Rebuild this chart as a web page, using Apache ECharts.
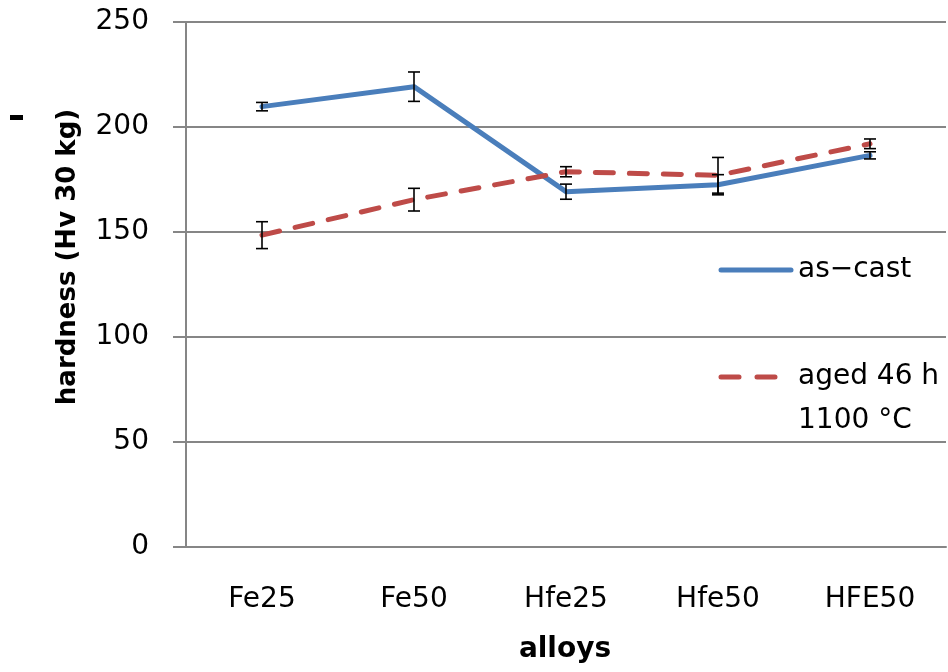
<!DOCTYPE html>
<html>
<head>
<meta charset="utf-8">
<script src="https://cdn.jsdelivr.net/npm/echarts@6/dist/echarts.min.js"></script>
<style>
  html, body { margin: 0; padding: 0; background: #fff; }
  #chart { width: 948px; height: 672px; }
</style>
</head>
<body>
<div id="chart"></div>
<script>
// Alloy categories
const alloys = ['Fe25', 'Fe50', 'Hfe25', 'Hfe50', 'HFE50'];

// Mean hardness and standard deviation per alloy
const asCast = [209.7, 219.2, 169.2, 172.5, 186.5];
const asCastErr = [2.0, 7.0, 3.6, 4.8, 1.7];
const aged = [148.5, 165.4, 178.7, 177.0, 192.0];
const agedErr = [6.4, 5.4, 2.4, 8.5, 2.3];

const yTicks = [0, 50, 100, 150, 200, 250];
const seriesNames = ['as\u2212cast', 'aged 46 h\n1100 \u00b0C'];
const colors = ['#4a7ebb', '#be4b48'];

const FONT = '"DejaVu Sans", sans-serif';

function errorSeries(name, values, errs) {
  return {
    type: 'custom',
    name: name + '-err',
    z: 5,
    data: values.map((v, i) => [i, v - errs[i], v + errs[i]]),
    renderItem: function (params, api) {
      const lo = api.coord([api.value(0), api.value(1)]);
      const hi = api.coord([api.value(0), api.value(2)]);
      const half = 6;
      const style = { stroke: '#000', lineWidth: 1.6 };
      return {
        type: 'group',
        children: [
          { type: 'line', shape: { x1: lo[0], y1: lo[1], x2: hi[0], y2: hi[1] }, style: style },
          { type: 'line', shape: { x1: lo[0] - half, y1: lo[1], x2: lo[0] + half, y2: lo[1] }, style: style },
          { type: 'line', shape: { x1: hi[0] - half, y1: hi[1], x2: hi[0] + half, y2: hi[1] }, style: style }
        ]
      };
    }
  };
}

const chart = echarts.init(document.getElementById('chart'), null, { renderer: 'canvas' });

chart.setOption({
  animation: false,
  backgroundColor: '#fff',
  grid: { left: 186, right: 2, top: 22, bottom: 125 },
  xAxis: {
    type: 'category',
    data: alloys,
    boundaryGap: true,
    axisLine: { lineStyle: { color: '#868686', width: 2 } },
    axisTick: { length: 11, lineStyle: { color: '#868686', width: 2 } },
    axisLabel: { color: '#000', fontSize: 28, fontFamily: FONT, margin: 39 },
    splitLine: { show: false }
  },
  yAxis: {
    type: 'value',
    min: yTicks[0],
    max: yTicks[yTicks.length - 1],
    interval: 50,
    axisLine: { show: true, lineStyle: { color: '#868686', width: 2 } },
    axisTick: { show: true, length: 13, lineStyle: { color: '#868686', width: 2 } },
    axisLabel: { color: '#000', fontSize: 28, fontFamily: FONT, margin: 37 },
    splitLine: { lineStyle: { color: '#868686', width: 2 } }
  },
  series: [
    {
      type: 'line',
      name: seriesNames[0],
      data: asCast,
      symbol: 'none',
      z: 3,
      lineStyle: { color: colors[0], width: 5, cap: 'round', join: 'round' }
    },
    {
      type: 'line',
      name: seriesNames[1],
      data: aged,
      symbol: 'none',
      z: 4,
      lineStyle: { color: colors[1], width: 5, type: [18, 16], cap: 'round', join: 'round' }
    },
    errorSeries('asCast', asCast, asCastErr),
    errorSeries('aged', aged, agedErr)
  ],
  graphic: [
    // axis titles
    {
      type: 'text', x: 68, y: 257, rotation: Math.PI / 2,
      style: { text: 'hardness (Hv 30 kg)', font: 'bold 26px ' + FONT, fill: '#000', align: 'center', verticalAlign: 'middle' }
    },
    {
      type: 'text', x: 565, y: 650,
      style: { text: 'alloys', font: 'bold 28px ' + FONT, fill: '#000', align: 'center', verticalAlign: 'middle' }
    },
    // small mark left of the axis title
    { type: 'rect', shape: { x: 10, y: 115, width: 13, height: 5 }, style: { fill: '#000' } },
    // legend
    { type: 'line', shape: { x1: 721, y1: 270, x2: 791, y2: 270 }, style: { stroke: colors[0], lineWidth: 5, lineCap: 'round' } },
    {
      type: 'text', x: 798, y: 270,
      style: { text: seriesNames[0], font: '28px ' + FONT, fill: '#000', align: 'left', verticalAlign: 'middle' }
    },
    { type: 'line', shape: { x1: 721, y1: 377, x2: 777, y2: 377 }, style: { stroke: colors[1], lineWidth: 5, lineDash: [18, 18], lineCap: 'round' } },
    {
      type: 'text', x: 798, y: 377,
      style: { text: 'aged 46 h', font: '28px ' + FONT, fill: '#000', align: 'left', verticalAlign: 'middle' }
    },
    {
      type: 'text', x: 798, y: 421,
      style: { text: '1100 \u00b0C', font: '28px ' + FONT, fill: '#000', align: 'left', verticalAlign: 'middle' }
    }
  ]
});
</script>
</body>
</html>
